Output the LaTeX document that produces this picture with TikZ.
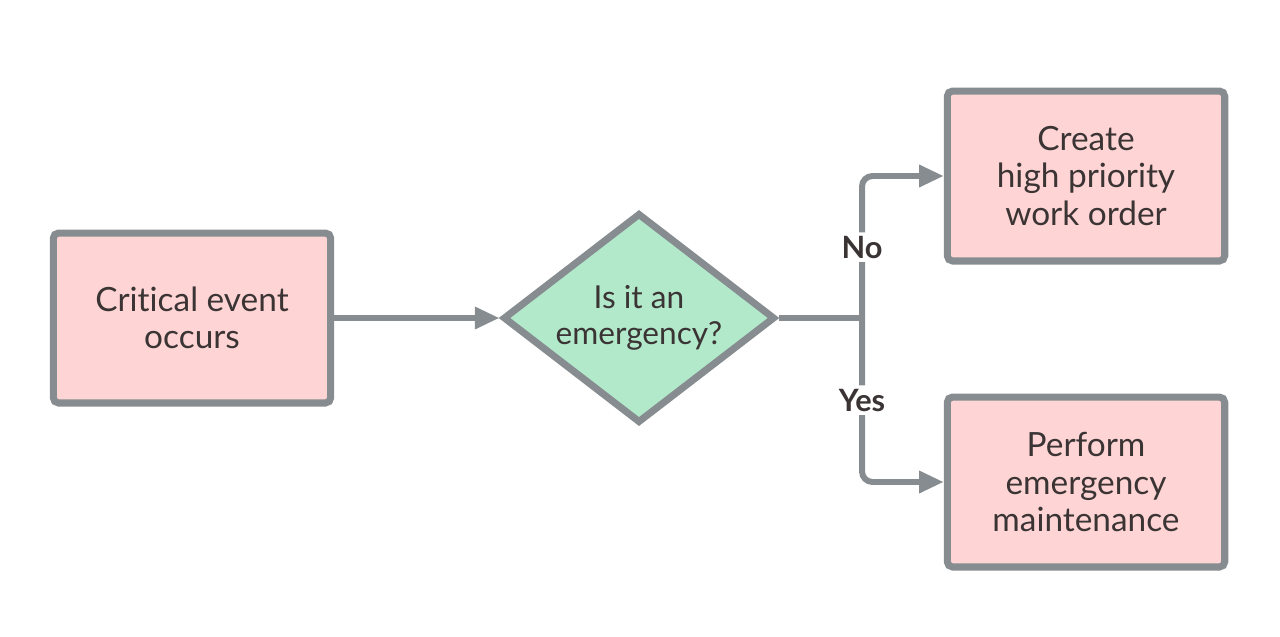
\documentclass[tikz,border=0pt]{standalone}
\usepackage{fontspec}
\setmainfont{Lato}[Ligatures=NoCommon]
\usetikzlibrary{shapes.geometric,arrows.meta}
\definecolor{boxpink}{HTML}{FFD4D4}
\definecolor{decgreen}{HTML}{B2E9CB}
\definecolor{edgegray}{HTML}{878C90}
\definecolor{inkdark}{HTML}{3B3434}

\begin{document}
\begin{tikzpicture}[x=0.02cm,y=-0.02cm,
    stepbox/.style={draw=edgegray,line width=4pt,fill=boxpink,rounded corners=3pt,minimum width=5.55cm,minimum height=3.4cm,align=center,text=inkdark,font=\fontsize{19}{21.3}\selectfont},
    decision/.style={diamond,aspect=1.3,draw=edgegray,line width=4pt,fill=decgreen,minimum width=5.44cm,minimum height=4.2cm,inner sep=0pt,align=center,text=inkdark,font=\fontsize{18}{20.5}\selectfont},
    flow/.style={draw=edgegray,line width=3.4pt,-{Triangle[length=14pt,width=12pt]}},
    answer/.style={fill=white,inner sep=2pt,text=inkdark,font=\fontsize{17.5}{19}\selectfont\bfseries}]
      \useasboundingbox (0,0) rectangle (1280,636);
      \node[stepbox] (event) at (192,318) {Critical event\\occurs};
      \node[decision] (emerg) at (639,318) {Is it an\\emergency?};
      \node[stepbox] (order) at (1086,176) {Create\\high priority\\work order};
      \node[stepbox] (maint) at (1086,482) {Perform\\emergency\\maintenance};
      \coordinate (split) at (862,318);
      \draw[flow] (event) -- (emerg);
      \draw[draw=edgegray,line width=3.4pt] (emerg) -- (split);
      \draw[flow,rounded corners=6pt] (split) |- (order) node[answer,pos=0.25] {No};
      \draw[flow,rounded corners=6pt] (split) |- (maint) node[answer,pos=0.25] {Yes};
   \end{tikzpicture}
\end{document}
